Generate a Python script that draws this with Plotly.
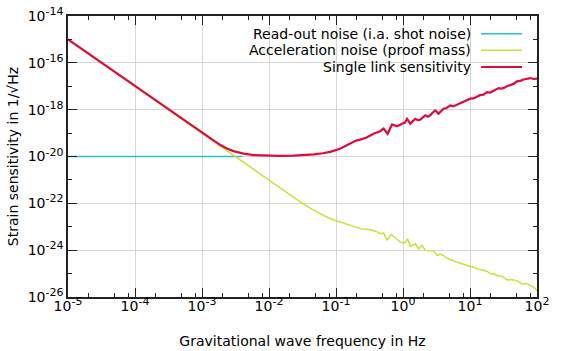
import numpy as np
import plotly.graph_objects as go

# values, as log10 of frequency (Hz) and of strain sensitivity
readout_logf = [-5.0, -2.4]
readout_logh = [-20.0, -20.0]

accel_logf = [-5.0, -4.0, -3.0, -2.5, -2.0, -1.83, -1.53, -1.33, -1.13, -1.085,
              -0.936, -0.787, -0.637, -0.488, -0.40, -0.339, -0.290, -0.239, -0.175, -0.115,
              -0.040, 0.034, 0.069, 0.109, 0.184, 0.233, 0.284, 0.333, 0.407, 0.457,
              0.507, 0.55, 0.606, 0.65, 0.706, 0.75, 0.806, 0.85, 0.904, 0.95,
              1.004, 1.05, 1.104, 1.18, 1.254, 1.303, 1.35, 1.403, 1.478, 1.552,
              1.60, 1.65, 1.701, 1.776, 1.84, 1.90, 1.95, 2.0]
accel_logh = [-15.0, -17.0, -19.0, -20.0, -21.0, -21.37, -21.95, -22.30, -22.59, -22.66,
              -22.80, -22.94, -23.08, -23.13, -23.20, -23.30, -23.27, -23.56, -23.33, -23.47,
              -23.66, -23.68, -23.51, -23.84, -23.73, -23.94, -23.80, -24.01, -24.03, -24.04,
              -24.23, -24.17, -24.23, -24.33, -24.41, -24.44, -24.51, -24.55, -24.61, -24.64,
              -24.70, -24.72, -24.80, -24.85, -24.90, -25.01, -25.00, -25.08, -25.12, -25.27,
              -25.25, -25.27, -25.30, -25.44, -25.42, -25.51, -25.58, -25.72]

single_logf = [-5.0, -4.0, -3.5, -3.0, -2.85, -2.73, -2.63, -2.53, -2.38, -2.23,
               -2.03, -1.83, -1.63, -1.48, -1.33, -1.20, -1.085, -0.94, -0.79, -0.70,
               -0.64, -0.55, -0.44, -0.34, -0.29, -0.23, -0.164, -0.12, -0.09, -0.015,
               0.03, 0.06, 0.109, 0.15, 0.184, 0.22, 0.258, 0.30, 0.333, 0.37,
               0.407, 0.44, 0.482, 0.531, 0.57, 0.606, 0.65, 0.706, 0.75, 0.806,
               0.85, 0.904, 0.95, 1.004, 1.05, 1.104, 1.15, 1.20, 1.254, 1.30,
               1.352, 1.39, 1.427, 1.46, 1.501, 1.55, 1.601, 1.65, 1.701, 1.75,
               1.80, 1.85, 1.90, 1.95, 2.0]
single_logh = [-15.0, -17.0, -18.0, -18.97, -19.27, -19.50, -19.66, -19.77, -19.88, -19.94,
               -19.965, -19.97, -19.965, -19.945, -19.91, -19.86, -19.80, -19.67, -19.43, -19.32,
               -19.28, -19.20, -19.03, -18.92, -18.81, -19.03, -18.63, -18.69, -18.71, -18.60,
               -18.55, -18.39, -18.60, -18.48, -18.39, -18.45, -18.43, -18.32, -18.24, -18.30,
               -18.24, -18.13, -18.03, -18.17, -18.05, -17.96, -17.93, -17.82, -17.86, -17.79,
               -17.74, -17.68, -17.62, -17.53, -17.52, -17.46, -17.38, -17.36, -17.25, -17.27,
               -17.18, -17.12, -17.08, -17.10, -17.08, -17.00, -16.96, -16.90, -16.79, -16.77,
               -16.71, -16.68, -16.65, -16.69, -16.675]

series_names = ["Read-out noise (i.a. shot noise)",
                "Acceleration noise (proof mass)",
                "Single link sensitivity"]
series_colors = ["#1cc3d6", "#cfdf3a", "#e00a3c"]
series_widths = [1.6, 1.5, 2.2]

x_exps = list(range(-5, 3))
y_exps = list(range(-26, -13, 2))
y_minor_exps = list(range(-25, -14, 2))

FONT = "DejaVu Sans"
AXIS = "#222222"
FS = 14


def power_label(e):
    return f"10<sup><span style='font-size:11px'>{e}</span></sup>"


fig = go.Figure()
for name, lf, lh, col, w in zip(series_names,
                                [readout_logf, accel_logf, single_logf],
                                [readout_logh, accel_logh, single_logh],
                                series_colors, series_widths):
    fig.add_trace(go.Scatter(
        x=np.power(10.0, lf), y=np.power(10.0, lh), mode="lines", name=name,
        line=dict(color=col, width=w), showlegend=False,
    ))

x_minor = [m * 10.0 ** e for e in x_exps[:-1] for m in (2, 5, 8)]

fig.update_xaxes(
    type="log", range=[-5, 2], automargin=False,
    tickmode="array", tickvals=[10.0 ** e for e in x_exps],
    ticktext=[power_label(e) for e in x_exps],
    ticks="inside", ticklen=9, tickwidth=1, tickcolor=AXIS, ticklabelstandoff=-5,
    ticklabeloverflow="allow",
    showline=True, linecolor=AXIS, linewidth=1.5, mirror="ticks",
    showgrid=True, gridcolor="#d6d6d6", gridwidth=1,
    minor=dict(tickmode="array", tickvals=x_minor, ticks="inside", ticklen=4.5,
               tickcolor=AXIS, showgrid=False),
    tickfont=dict(family=FONT, size=FS, color="black"),
    title=dict(text="Gravitational wave frequency in Hz", standoff=24,
               font=dict(family=FONT, size=FS, color="black")),
)
fig.update_yaxes(
    type="log", range=[-26, -14], automargin=False,
    tickmode="array", tickvals=[10.0 ** e for e in y_exps],
    ticktext=[power_label(e) for e in y_exps],
    ticks="inside", ticklen=9, tickwidth=1, tickcolor=AXIS,
    ticklabeloverflow="allow",
    showline=True, linecolor=AXIS, linewidth=1.5, mirror="ticks",
    showgrid=True, gridcolor="#d6d6d6", gridwidth=1,
    minor=dict(tickmode="array", tickvals=[10.0 ** e for e in y_minor_exps],
               ticks="inside", ticklen=4.5, tickcolor=AXIS, showgrid=False),
    tickfont=dict(family=FONT, size=FS, color="black"),
    title=dict(text="Strain sensitivity in 1/√Hz", standoff=6,
               font=dict(family=FONT, size=FS, color="black")),
)

# key box in the upper right, text right-aligned with the sample line after it
shapes = [dict(type="rect", xref="paper", yref="paper", x0=0.297, x1=0.998,
               y0=0.79, y1=0.997, fillcolor="white", line_width=0, layer="between")]
annotations = []
key_y = [0.937, 0.878, 0.8185]
for name, col, w, ky in zip(series_names, series_colors, series_widths, key_y):
    annotations.append(dict(xref="paper", yref="paper", x=0.8636, y=ky, text=name,
                            xanchor="right", yanchor="middle", showarrow=False,
                            font=dict(family=FONT, size=FS, color="black")))
    shapes.append(dict(type="line", xref="paper", yref="paper", x0=0.8807, x1=0.968,
                       y0=ky, y1=ky, line=dict(color=col, width=w)))

fig.update_layout(
    width=561, height=351,
    margin=dict(l=68, r=24, t=16, b=54),
    paper_bgcolor="white", plot_bgcolor="white",
    font=dict(family=FONT, size=FS, color="black"),
    shapes=shapes, annotations=annotations,
    showlegend=False,
)

# drop the default page margin so the figure sits at the window corner
fig.write_html("out.html", config={"displayModeBar": False},
               post_script="document.body.style.margin = '0';")
